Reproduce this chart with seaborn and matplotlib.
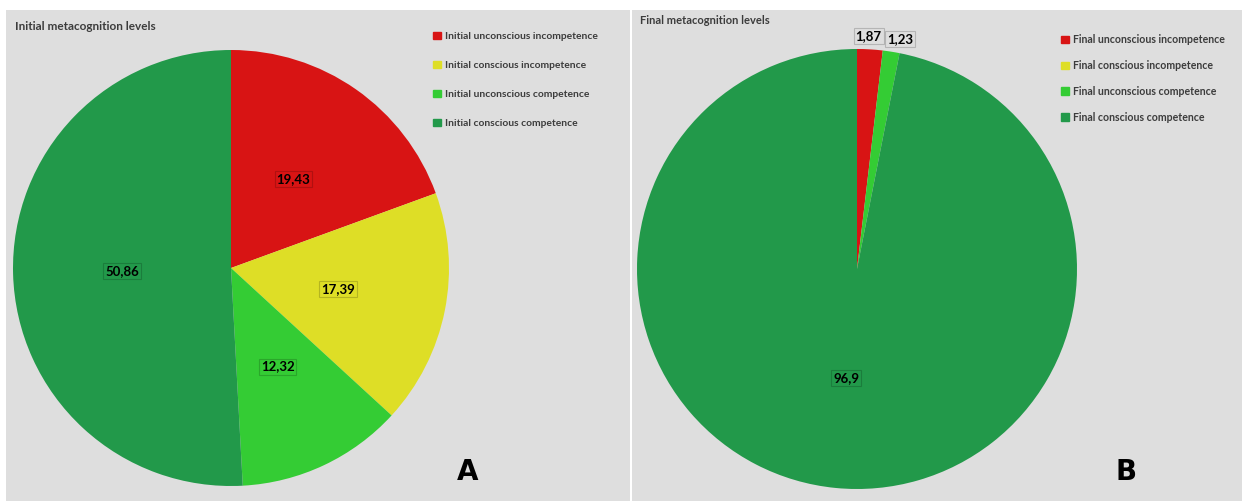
"""Initial vs final metacognition levels — two pie panels (A / B)."""
import matplotlib.pyplot as plt
import numpy as np
import seaborn as sns

# ── Data ──────────────────────────────────────────────────────────────────────
levels = ["unconscious incompetence", "conscious incompetence",
          "unconscious competence", "conscious competence"]
initial_values = [19.43, 17.39, 12.32, 50.86]
final_values = [1.87, 0.0, 1.23, 96.9]
initial_labels = ["19,43", "17,39", "12,32", "50,86"]
final_labels = ["1,87", "", "1,23", "96,9"]

COLORS = ["#d81414", "#dede26", "#34cc34", "#22994a"]
PANEL_BG = "#dedede"
TEXT_DARK = "#3c3c3c"

sns.set_theme(style="white")
plt.rcParams["font.family"] = ["Lato", "DejaVu Sans"]

fig = plt.figure(figsize=(12.42, 5.01), dpi=100)
W, H = 1242, 501


def _panel(x0, x1, y0, y1):
    ax = fig.add_axes([x0 / W, 1 - y1 / H, (x1 - x0) / W, (y1 - y0) / H])
    ax.set_facecolor(PANEL_BG)
    for s in ax.spines.values():
        s.set_visible(False)
    return ax


def _draw(ax, values, labels, cx, cy, r, px_w, px_h, outside):
    # pie in data units of one radius, centre placed at (cx, cy) px from top-left
    wedges, _ = ax.pie(values, colors=COLORS, startangle=90, counterclock=False,
                       radius=1.0, center=(0, 0), frame=True,
                       wedgeprops=dict(linewidth=0))
    ax.set_xlim(-cx / r, (px_w - cx) / r)
    ax.set_ylim(-(px_h - cy) / r, cy / r)
    ax.set_aspect("auto")
    ax.set_xticks([])
    ax.set_yticks([])
    for w, lab in zip(wedges, labels):
        if not lab:
            continue
        mid = np.deg2rad((w.theta1 + w.theta2) / 2)
        dist, shift = outside.get(lab, (0.5, 0))
        ax.annotate(lab, (dist * np.cos(mid), dist * np.sin(mid)),
                    xytext=(shift, 0), textcoords="offset points",
                    ha="center", va="center",
                    fontsize=9.5, fontweight="bold", color="black",
                    bbox=dict(boxstyle="square,pad=0.15", fc="none",
                              ec=(0, 0, 0, 0.18), lw=0.8))
    return [plt.Rectangle((0, 0), 1, 1, color=c) for c in COLORS]


def _legend(ax, handles, names, anchor, size, spacing):
    leg = ax.legend(handles, names, loc="upper left", bbox_to_anchor=anchor,
                    frameon=False, fontsize=size, handlelength=0.7,
                    handleheight=0.7, handletextpad=0.4, labelspacing=spacing)
    for t in leg.get_texts():
        t.set_color(TEXT_DARK)
        t.set_fontweight("bold")


# ── Panel A ───────────────────────────────────────────────────────────────────
axA = _panel(6, 630, 10, 501)
hA = _draw(axA, initial_values, initial_labels, 225, 258, 218, 624, 491, {})
axA.text(0.014, 0.967, "Initial metacognition levels", transform=axA.transAxes,
         ha="left", va="center", fontsize=8.5, fontweight="bold", color=TEXT_DARK)
_legend(axA, hA, [f"Initial {l}" for l in levels], (0.67, 0.975), 7.4, 1.95)
axA.text(0.74, 0.03, "A", transform=axA.transAxes, ha="center", va="bottom",
         fontsize=20, fontweight="bold", color="black", family="DejaVu Sans")

# ── Panel B ───────────────────────────────────────────────────────────────────
axB = _panel(632, 1242, 10, 501)
hB = _draw(axB, final_values, final_labels, 225, 259, 220, 610, 491,
           {"1,87": (1.06, -1.5), "1,23": (1.06, 5)})
axB.text(0.013, 0.978, "Final metacognition levels", transform=axB.transAxes,
         ha="left", va="center", fontsize=8, fontweight="bold", color=TEXT_DARK)
_legend(axB, hB, [f"Final {l}" for l in levels], (0.688, 0.97), 7.6, 1.4)
axB.text(0.81, 0.03, "B", transform=axB.transAxes, ha="center", va="bottom",
         fontsize=20, fontweight="bold", color="black", family="DejaVu Sans")

fig.savefig("out.png", dpi=100, facecolor="white")
